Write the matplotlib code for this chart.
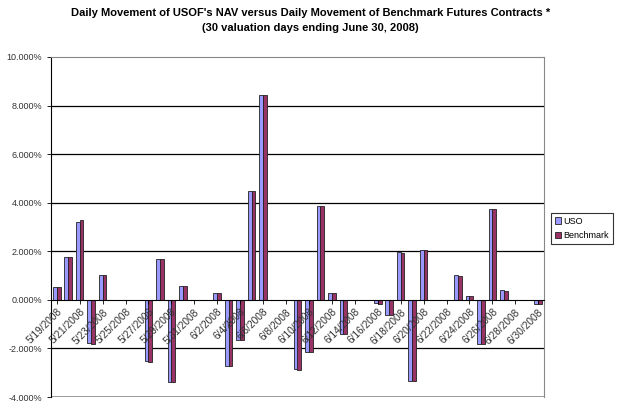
import matplotlib
matplotlib.use("Agg")
import matplotlib.pyplot as plt
import numpy as np
import pandas as pd
from matplotlib.ticker import FuncFormatter

plt.rcParams["font.family"] = ["Liberation Sans", "DejaVu Sans"]

# trading days (30 valuation days ending June 30, 2008)
dates = ["5/19/2008", "5/20/2008", "5/21/2008", "5/22/2008", "5/23/2008",
         "5/27/2008", "5/28/2008", "5/29/2008", "5/30/2008",
         "6/2/2008", "6/3/2008", "6/4/2008", "6/5/2008", "6/6/2008",
         "6/9/2008", "6/10/2008", "6/11/2008", "6/12/2008", "6/13/2008",
         "6/16/2008", "6/17/2008", "6/18/2008", "6/19/2008", "6/20/2008",
         "6/23/2008", "6/24/2008", "6/25/2008", "6/26/2008", "6/27/2008",
         "6/30/2008"]
uso = [0.54, 1.76, 3.22, -1.77, 1.03,
       -2.50, 1.69, -3.40, 0.57,
       0.28, -2.73, -1.66, 4.48, 8.43,
       -2.85, -2.15, 3.87, 0.28, -1.42,
       -0.14, -0.63, 1.95, -3.36, 2.06,
       1.04, 0.16, -1.82, 3.76, 0.42,
       -0.17]
benchmark = [0.53, 1.76, 3.27, -1.83, 1.03,
             -2.55, 1.69, -3.40, 0.57,
             0.28, -2.73, -1.66, 4.48, 8.43,
             -2.90, -2.15, 3.85, 0.28, -1.42,
             -0.15, -0.63, 1.94, -3.36, 2.06,
             0.98, 0.16, -1.82, 3.76, 0.38,
             -0.18]

start = pd.Timestamp("2008-05-19")
day = np.array([(pd.Timestamp(d) - start).days for d in dates])
label_days = np.arange(0, 43, 2)
labels = [f"{d.month}/{d.day}/{d.year}" for d in
          (start + pd.to_timedelta(label_days, unit="D"))]

fig = plt.figure(figsize=(6.21, 4.15), dpi=100)
ax = fig.add_axes([51 / 621, 1 - 397 / 415, (544 - 51) / 621, 340 / 415])

w = 0.33
ax.bar(day - w / 2, uso, w, color="#9999FF", edgecolor="#222222",
       linewidth=0.6, label="USO", zorder=2)
ax.bar(day + w / 2, benchmark, w, color="#993366", edgecolor="#222222",
       linewidth=0.6, label="Benchmark", zorder=2)

ax.set_xlim(-0.5, 42.5)
ax.set_ylim(-4, 10)
ax.set_yticks(np.arange(-4, 10.1, 2))
ax.yaxis.set_major_formatter(FuncFormatter(lambda v, p: f"{v:.3f}%"))
for v in [-2, 2, 4, 6, 8]:
    ax.axhline(v, color="black", linewidth=0.9, zorder=1)

for s in ["top", "right"]:
    ax.spines[s].set_color("#888888")
ax.spines["left"].set_color("black")
ax.spines["bottom"].set_position(("data", 0))
ax.spines["bottom"].set_color("black")
ax.spines["bottom"].set_zorder(4)
ax.axhline(-4, color="#888888", linewidth=1.2, zorder=1)

ax.set_xticks(label_days)
ax.set_xticklabels(labels, rotation=45, ha="right", va="top",
                   rotation_mode="anchor", fontsize=7.3, color="#333333")
ax.tick_params(axis="x", direction="out", length=3, width=0.6, pad=2)
ax.tick_params(axis="y", direction="out", length=3, width=0.6,
               labelsize=6.5, labelcolor="#333333")
ax.xaxis.set_zorder(5)

leg = ax.legend(loc="upper left", bbox_to_anchor=(551 / 621, 1 - 213 / 415),
                bbox_transform=fig.transFigure, fontsize=6.5, frameon=True,
                fancybox=False, edgecolor="black", handlelength=0.7,
                handleheight=0.7, handletextpad=0.3, borderpad=0.4,
                labelspacing=0.6, borderaxespad=0)
leg.get_frame().set_linewidth(0.8)

fig.text(0.5, 1 - 13 / 415,
         "Daily Movement of USOF's NAV versus Daily Movement of Benchmark Futures Contracts *",
         ha="center", va="center", fontsize=8, fontweight="bold")
fig.text(0.5, 1 - 28 / 415, "(30 valuation days ending June 30, 2008)",
         ha="center", va="center", fontsize=8, fontweight="bold")

fig.savefig("out.png", dpi=100)
plt.close(fig)
